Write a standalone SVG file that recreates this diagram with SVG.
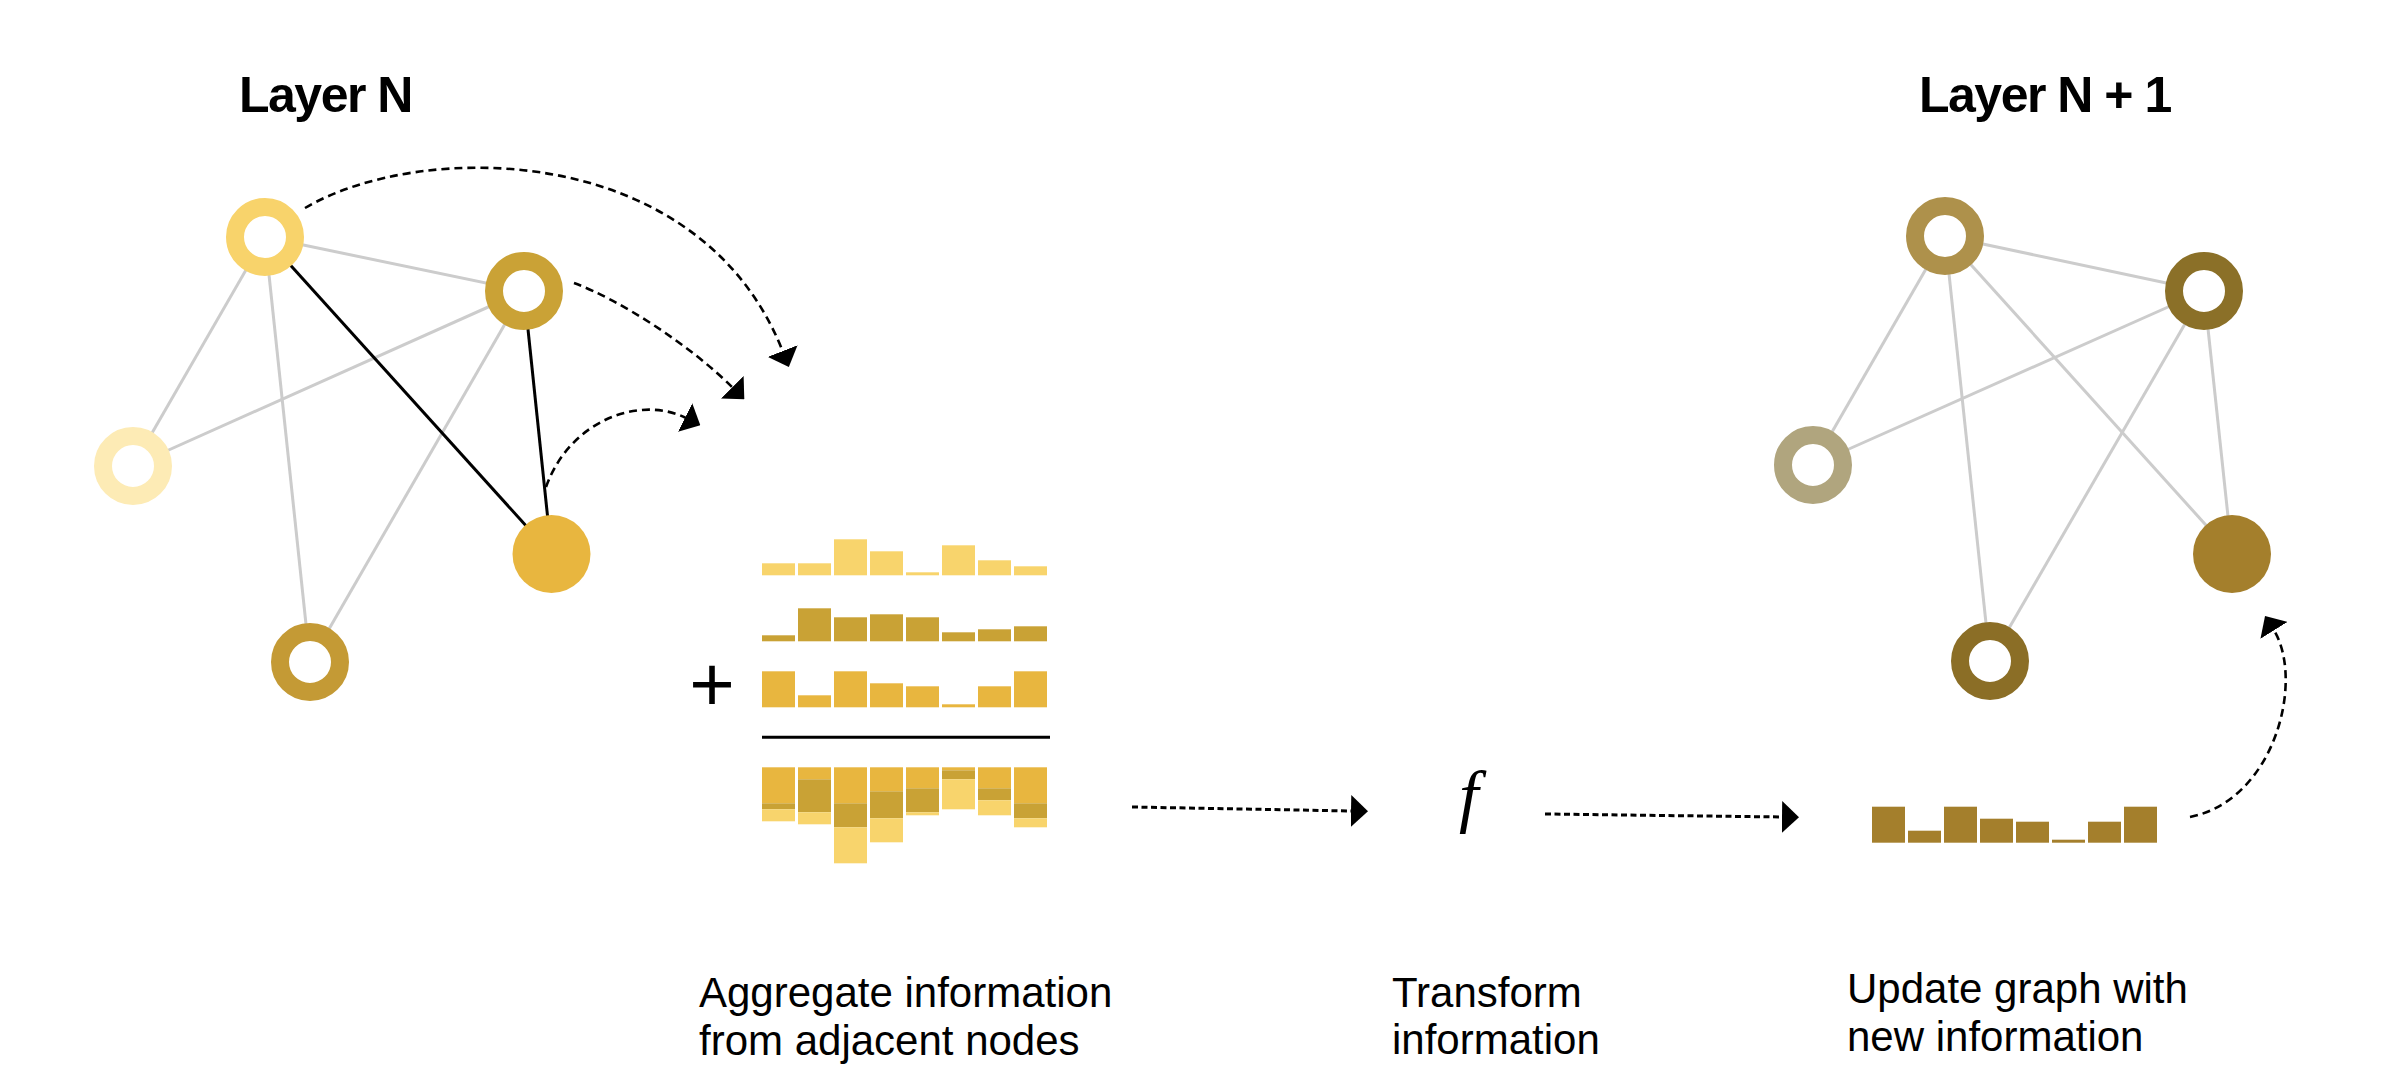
<svg xmlns="http://www.w3.org/2000/svg" width="2382" height="1080" viewBox="0 0 2382 1080">
<defs>
<style>
.edge{stroke:#cccccc;stroke-width:3;fill:none}
.edge-on{stroke:#000;stroke-width:3;fill:none}
.ring{fill:#fff;stroke-width:18}
.flow{fill:none;stroke:#000;stroke-width:2.6;stroke-dasharray:8 5}
.dotted{fill:none;stroke:#000;stroke-width:3;stroke-dasharray:6 3.5}
.title{font-family:"Liberation Sans",Arial,Helvetica,sans-serif;font-weight:bold;font-size:50px;letter-spacing:-1.5px;fill:#000}
.label{font-family:"Liberation Sans",Arial,Helvetica,sans-serif;font-size:42px;fill:#000}
.plus{font-family:"Liberation Sans",Arial,Helvetica,sans-serif;font-size:78px;fill:#000}
.r1{fill:#F8D46C}
.r2{fill:#C9A235}
.r3{fill:#E8B63F}
.out{fill:#A47F2C}
</style>
<marker id="ah" markerUnits="userSpaceOnUse" viewBox="0 0 17 32" refX="1" refY="16" markerWidth="17" markerHeight="32" orient="auto">
<path d="M0,0 L17,16 L0,32 Z" fill="#000"/>
</marker>
</defs>
<rect width="2382" height="1080" fill="#fff"/>

<text class="title" x="239" y="112">Layer N</text>
<text class="title" x="1919" y="112">Layer N + 1</text>

<g id="edges-layer-n">
<line class="edge" x1="265" y1="237" x2="524" y2="291"/>
<line class="edge" x1="265" y1="237" x2="133" y2="466"/>
<line class="edge" x1="265" y1="237" x2="310" y2="662"/>
<line class="edge" x1="524" y1="291" x2="133" y2="466"/>
<line class="edge" x1="524" y1="291" x2="310" y2="662"/>
<line class="edge-on" x1="265" y1="237" x2="551.5" y2="554"/>
<line class="edge-on" x1="524" y1="291" x2="551.5" y2="554"/>
</g>

<g id="edges-layer-n1">
<line class="edge" x1="1945" y1="236" x2="2204" y2="291"/>
<line class="edge" x1="1945" y1="236" x2="1813" y2="465"/>
<line class="edge" x1="1945" y1="236" x2="1990" y2="661"/>
<line class="edge" x1="1945" y1="236" x2="2232" y2="554"/>
<line class="edge" x1="2204" y1="291" x2="1813" y2="465"/>
<line class="edge" x1="2204" y1="291" x2="1990" y2="661"/>
<line class="edge" x1="2204" y1="291" x2="2232" y2="554"/>
</g>

<g id="node-n-a"><circle class="ring" cx="265" cy="237" r="30" stroke="#F8D36B"/></g>
<g id="node-n-b"><circle class="ring" cx="524" cy="291" r="30" stroke="#CAA236"/></g>
<g id="node-n-c"><circle class="ring" cx="133" cy="466" r="30" stroke="#FDEBB5"/></g>
<g id="node-n-d"><circle cx="551.5" cy="554" r="39" fill="#E8B63F"/></g>
<g id="node-n-e"><circle class="ring" cx="310" cy="662" r="30" stroke="#C49A35"/></g>

<g id="node-n1-a"><circle class="ring" cx="1945" cy="236" r="30" stroke="#AE914B"/></g>
<g id="node-n1-b"><circle class="ring" cx="2204" cy="291" r="30" stroke="#8B7028"/></g>
<g id="node-n1-c"><circle class="ring" cx="1813" cy="465" r="30" stroke="#B0A57E"/></g>
<g id="node-n1-d"><circle cx="2232" cy="554" r="39" fill="#A47F2C"/></g>
<g id="node-n1-e"><circle class="ring" cx="1990" cy="661" r="30" stroke="#8B6E26"/></g>

<g id="aggregate">
<text class="plus" x="712" y="711" text-anchor="middle">+</text>
<g id="row1">
<rect class="r1" x="762" y="563.3" width="33" height="12"/>
<rect class="r1" x="798" y="563.3" width="33" height="12"/>
<rect class="r1" x="834" y="539.3" width="33" height="36"/>
<rect class="r1" x="870" y="551.3" width="33" height="24"/>
<rect class="r1" x="906" y="572.3" width="33" height="3"/>
<rect class="r1" x="942" y="545.3" width="33" height="30"/>
<rect class="r1" x="978" y="560.3" width="33" height="15"/>
<rect class="r1" x="1014" y="566.3" width="33" height="9"/>
</g>
<g id="row2">
<rect class="r2" x="762" y="635.3" width="33" height="6"/>
<rect class="r2" x="798" y="608.3" width="33" height="33"/>
<rect class="r2" x="834" y="617.3" width="33" height="24"/>
<rect class="r2" x="870" y="614.3" width="33" height="27"/>
<rect class="r2" x="906" y="617.3" width="33" height="24"/>
<rect class="r2" x="942" y="632.3" width="33" height="9"/>
<rect class="r2" x="978" y="629.3" width="33" height="12"/>
<rect class="r2" x="1014" y="626.3" width="33" height="15"/>
</g>
<g id="row3">
<rect class="r3" x="762" y="671.3" width="33" height="36"/>
<rect class="r3" x="798" y="695.3" width="33" height="12"/>
<rect class="r3" x="834" y="671.3" width="33" height="36"/>
<rect class="r3" x="870" y="683.3" width="33" height="24"/>
<rect class="r3" x="906" y="686.3" width="33" height="21"/>
<rect class="r3" x="942" y="704.3" width="33" height="3"/>
<rect class="r3" x="978" y="686.3" width="33" height="21"/>
<rect class="r3" x="1014" y="671.3" width="33" height="36"/>
</g>
<line x1="762" y1="737.3" x2="1050" y2="737.3" stroke="#000" stroke-width="3"/>
<g id="sum">
<rect class="r3" x="762" y="767.3" width="33" height="36"/><rect class="r2" x="762" y="803.3" width="33" height="6"/><rect class="r1" x="762" y="809.3" width="33" height="12"/>
<rect class="r3" x="798" y="767.3" width="33" height="12"/><rect class="r2" x="798" y="779.3" width="33" height="33"/><rect class="r1" x="798" y="812.3" width="33" height="12"/>
<rect class="r3" x="834" y="767.3" width="33" height="36"/><rect class="r2" x="834" y="803.3" width="33" height="24"/><rect class="r1" x="834" y="827.3" width="33" height="36"/>
<rect class="r3" x="870" y="767.3" width="33" height="24"/><rect class="r2" x="870" y="791.3" width="33" height="27"/><rect class="r1" x="870" y="818.3" width="33" height="24"/>
<rect class="r3" x="906" y="767.3" width="33" height="21"/><rect class="r2" x="906" y="788.3" width="33" height="24"/><rect class="r1" x="906" y="812.3" width="33" height="3"/>
<rect class="r3" x="942" y="767.3" width="33" height="3"/><rect class="r2" x="942" y="770.3" width="33" height="9"/><rect class="r1" x="942" y="779.3" width="33" height="30"/>
<rect class="r3" x="978" y="767.3" width="33" height="21"/><rect class="r2" x="978" y="788.3" width="33" height="12"/><rect class="r1" x="978" y="800.3" width="33" height="15"/>
<rect class="r3" x="1014" y="767.3" width="33" height="36"/><rect class="r2" x="1014" y="803.3" width="33" height="15"/><rect class="r1" x="1014" y="818.3" width="33" height="9"/>
</g>
</g>

<g id="transform">
<text x="1459" y="819" font-family="'Liberation Serif','Times New Roman',serif" font-style="italic" font-size="70" fill="#000">f</text>
</g>

<g id="output">
<rect class="out" x="1872" y="806.7" width="33" height="36"/>
<rect class="out" x="1908" y="830.7" width="33" height="12"/>
<rect class="out" x="1944" y="806.7" width="33" height="36"/>
<rect class="out" x="1980" y="818.7" width="33" height="24"/>
<rect class="out" x="2016" y="821.7" width="33" height="21"/>
<rect class="out" x="2052" y="839.7" width="33" height="3"/>
<rect class="out" x="2088" y="821.7" width="33" height="21"/>
<rect class="out" x="2124" y="806.7" width="33" height="36"/>
</g>

<g id="connectors">
<path class="flow" d="M305,208 C420,140 700,140 783,352" marker-end="url(#ah)"/>
<path class="flow" d="M574,283 C620,300 690,345 733,388" marker-end="url(#ah)"/>
<path class="flow" d="M546,487 C570,420 640,395 686,418" marker-end="url(#ah)"/>
<path class="dotted" d="M1132,807 L1352,811" marker-end="url(#ah)"/>
<path class="dotted" d="M1545,814 L1783,817" marker-end="url(#ah)"/>
<path class="flow" d="M2190,817 C2275,800 2305,680 2273.5,629.5" marker-end="url(#ah)"/>
</g>

<g id="labels">
<text class="label" x="699" y="1007">Aggregate information</text>
<text class="label" x="699" y="1055">from adjacent nodes</text>
<text class="label" x="1392" y="1007">Transform</text>
<text class="label" x="1392" y="1054">information</text>
<text class="label" x="1847" y="1003">Update graph with</text>
<text class="label" x="1847" y="1051">new information</text>
</g>
</svg>
